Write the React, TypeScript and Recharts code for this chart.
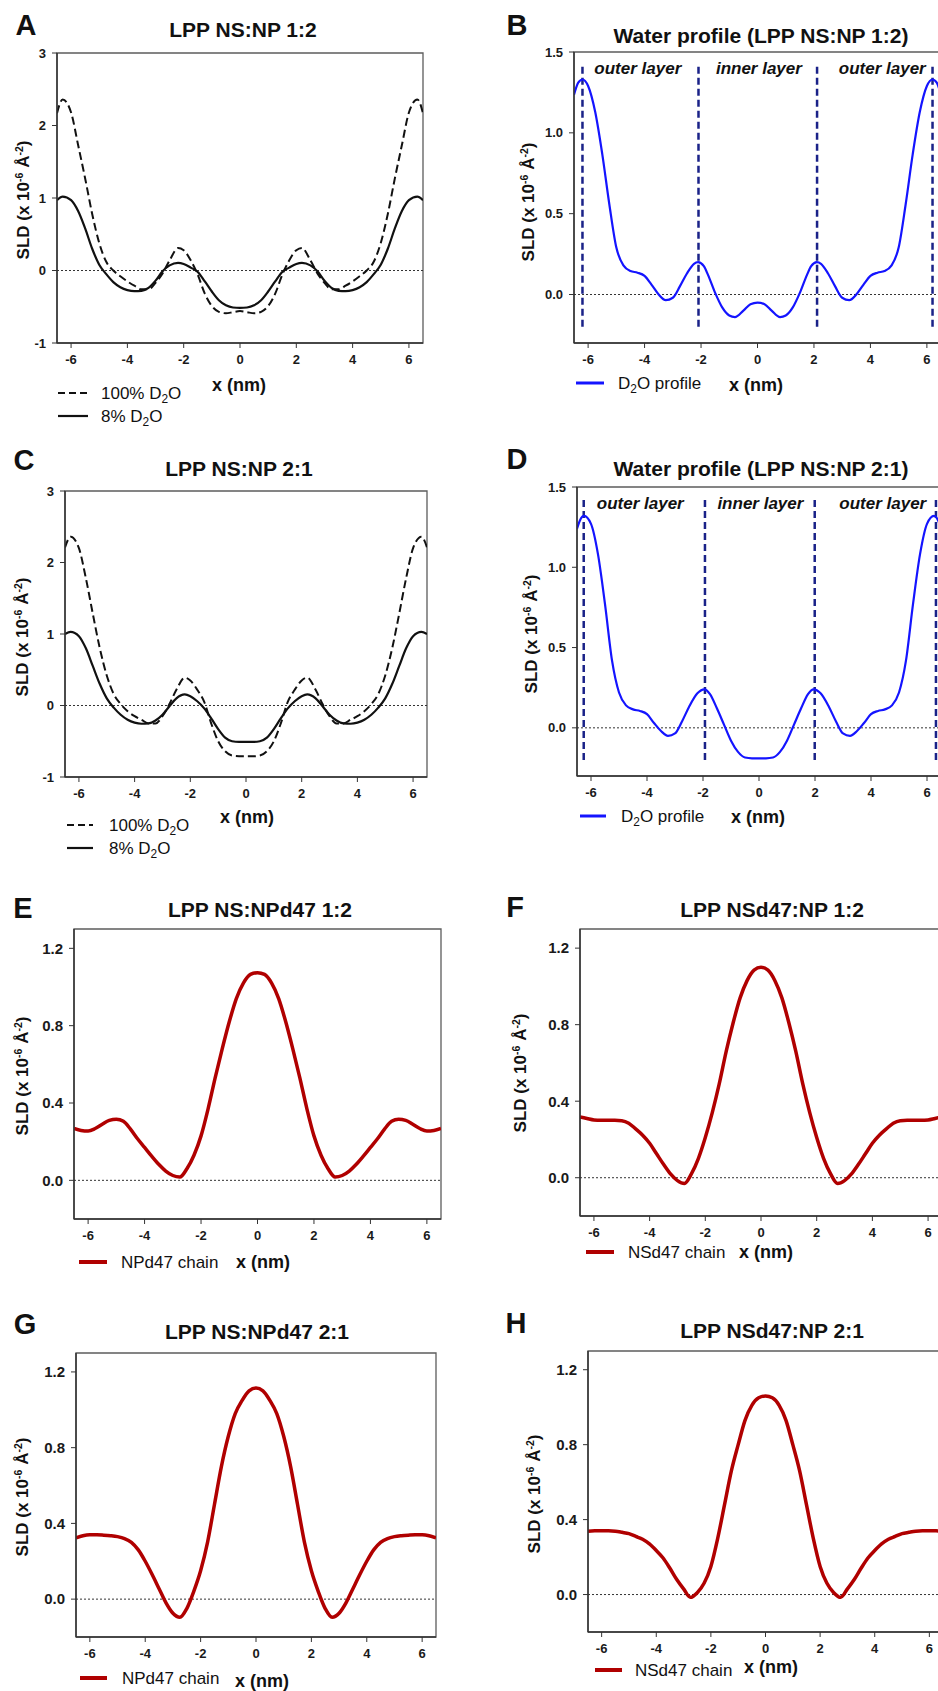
import React from "react";
import {
  LineChart, Line, XAxis, YAxis,
  ReferenceLine, ReferenceArea, ReferenceDot,
} from "recharts";

const FONT = '"Liberation Sans", Arial, Helvetica, sans-serif';

// shared x ticks, nm
const xTicks = [-6, -4, -2, 0, 2, 4, 6];

// ---- A / C : LPP NS:NP total SLD ----
const xAC = [
  -6.5, -6.3, -6, -5.75, -5.5, -5.25, -5, -4.75, -4.5, -4.25, -4, -3.75, -3.5, -3.25, -3, -2.75, -2.5, -2.2, -2, -1.75, -1.5, -1.25, -1, -0.75, -0.5, -0.25,
  0,
  0.25, 0.5, 0.75, 1, 1.25, 1.5, 1.75, 2, 2.2, 2.5, 2.75, 3, 3.25, 3.5, 3.75, 4, 4.25, 4.5, 4.75, 5, 5.25, 5.5, 5.75, 6, 6.3, 6.5,
];
const a100 = [
  2.17, 2.36, 2.18, 1.73, 1.27, 0.78, 0.38, 0.12, 0.0, -0.08, -0.15, -0.21, -0.26, -0.26, -0.17, -0.04, 0.14, 0.31, 0.28, 0.14, -0.06, -0.32, -0.49, -0.57, -0.59, -0.575,
  -0.56,
  -0.575, -0.59, -0.57, -0.49, -0.32, -0.06, 0.14, 0.28, 0.31, 0.14, -0.04, -0.17, -0.26, -0.26, -0.21, -0.15, -0.08, 0.0, 0.12, 0.38, 0.78, 1.27, 1.73, 2.18, 2.36, 2.17,
];
const a8 = [
  0.97, 1.02, 0.97, 0.82, 0.58, 0.3, 0.08, -0.05, -0.16, -0.23, -0.27, -0.285, -0.28, -0.24, -0.14, -0.01, 0.07, 0.105, 0.09, 0.04, -0.02, -0.15, -0.29, -0.41, -0.48, -0.51,
  -0.515,
  -0.51, -0.48, -0.41, -0.29, -0.15, -0.02, 0.04, 0.09, 0.105, 0.07, -0.01, -0.14, -0.24, -0.28, -0.285, -0.27, -0.23, -0.16, -0.05, 0.08, 0.3, 0.58, 0.82, 0.97, 1.02, 0.97,
];
const c100 = [
  2.21, 2.36, 2.2, 1.78, 1.28, 0.8, 0.42, 0.16, 0.02, -0.08, -0.15, -0.2, -0.25, -0.25, -0.15, 0.02, 0.22, 0.39, 0.35, 0.22, 0.05, -0.25, -0.5, -0.64, -0.7, -0.71,
  -0.71,
  -0.71, -0.7, -0.64, -0.5, -0.25, 0.05, 0.22, 0.35, 0.39, 0.22, 0.02, -0.15, -0.25, -0.25, -0.2, -0.15, -0.08, 0.02, 0.16, 0.42, 0.8, 1.28, 1.78, 2.2, 2.36, 2.21,
];
const c8 = [
  1.0, 1.03, 0.97, 0.8, 0.55, 0.3, 0.1, -0.03, -0.13, -0.2, -0.24, -0.255, -0.25, -0.21, -0.13, -0.01, 0.1, 0.155, 0.13, 0.06, -0.04, -0.18, -0.33, -0.45, -0.5, -0.51,
  -0.51,
  -0.51, -0.5, -0.45, -0.33, -0.18, -0.04, 0.06, 0.13, 0.155, 0.1, -0.01, -0.13, -0.21, -0.25, -0.255, -0.24, -0.2, -0.13, -0.03, 0.1, 0.3, 0.55, 0.8, 0.97, 1.03, 1.0,
];

// ---- B : water profile 1:2 ----
const xB = [
  -6.5, -6.35, -6.2, -6, -5.75, -5.5, -5.25, -5, -4.75, -4.5, -4.25, -4, -3.75, -3.5, -3.25, -3, -2.75, -2.5, -2.25, -2.1, -1.9, -1.75, -1.5, -1.25, -1, -0.8, -0.5, -0.25,
  0,
  0.25, 0.5, 0.8, 1, 1.25, 1.5, 1.75, 1.9, 2.1, 2.25, 2.5, 2.75, 3, 3.25, 3.5, 3.75, 4, 4.25, 4.5, 4.75, 5, 5.25, 5.5, 5.75, 6, 6.2, 6.35, 6.5,
];
const bWater = [
  1.235, 1.31, 1.33, 1.29, 1.13, 0.87, 0.56, 0.29, 0.18, 0.145, 0.135, 0.115, 0.06, 0.0, -0.035, -0.02, 0.05, 0.13, 0.19, 0.2, 0.175, 0.12, 0.01, -0.08, -0.13, -0.14, -0.1, -0.06,
  -0.05,
  -0.06, -0.1, -0.14, -0.13, -0.08, 0.01, 0.12, 0.175, 0.2, 0.19, 0.13, 0.05, -0.02, -0.035, 0.0, 0.06, 0.115, 0.135, 0.145, 0.18, 0.29, 0.56, 0.87, 1.13, 1.29, 1.33, 1.31, 1.235,
];
const bBounds = [-6.2, -2.09, 2.11, 6.2];

// ---- D : water profile 2:1 ----
const xD = [
  -6.5, -6.4, -6.25, -6, -5.75, -5.5, -5.25, -5, -4.75, -4.5, -4.25, -4, -3.75, -3.5, -3.25, -3, -2.75, -2.5, -2.2, -1.95, -1.75, -1.5, -1.25, -1, -0.75, -0.5, -0.25,
  0,
  0.25, 0.5, 0.75, 1, 1.25, 1.5, 1.75, 1.95, 2.2, 2.5, 2.75, 3, 3.25, 3.5, 3.75, 4, 4.25, 4.5, 4.75, 5, 5.25, 5.5, 5.75, 6, 6.25, 6.4, 6.5,
];
const dWater = [
  1.24, 1.29, 1.32, 1.27, 1.08, 0.77, 0.42, 0.22, 0.14, 0.115, 0.105, 0.085, 0.03, -0.02, -0.05, -0.035, 0.04, 0.13, 0.215, 0.24, 0.21, 0.12, 0.02, -0.08, -0.15, -0.185, -0.19,
  -0.19,
  -0.19, -0.185, -0.15, -0.08, 0.02, 0.12, 0.21, 0.24, 0.215, 0.13, 0.04, -0.035, -0.05, -0.02, 0.03, 0.085, 0.105, 0.115, 0.14, 0.22, 0.42, 0.77, 1.08, 1.27, 1.32, 1.29, 1.24,
];
const dBounds = [-6.26, -1.93, 1.99, 6.32];

const layerLabels = [
  { x: -4.24, text: "outer layer" },
  { x: 0.05, text: "inner layer" },
  { x: 4.42, text: "outer layer" },
];

// ---- E-H : deuterated chain profiles ----
const xChain = [
  -6.5, -6.25, -6, -5.75, -5.5, -5.25, -5, -4.75, -4.5, -4.25, -4, -3.75, -3.5, -3.25, -3, -2.75, -2.5, -2.25, -2, -1.75, -1.5, -1.25, -1, -0.75, -0.5, -0.25,
  0,
  0.25, 0.5, 0.75, 1, 1.25, 1.5, 1.75, 2, 2.25, 2.5, 2.75, 3, 3.25, 3.5, 3.75, 4, 4.25, 4.5, 4.75, 5, 5.25, 5.5, 5.75, 6, 6.25, 6.5,
];
const eChain = [
  0.268, 0.258, 0.255, 0.268, 0.29, 0.31, 0.316, 0.305, 0.265, 0.215, 0.17, 0.125, 0.083, 0.048, 0.025, 0.017, 0.06, 0.13, 0.23, 0.37, 0.53, 0.68, 0.82, 0.94, 1.02, 1.065,
  1.074,
  1.065, 1.02, 0.94, 0.82, 0.68, 0.53, 0.37, 0.23, 0.13, 0.06, 0.017, 0.025, 0.048, 0.083, 0.125, 0.17, 0.215, 0.265, 0.305, 0.316, 0.31, 0.29, 0.268, 0.255, 0.258, 0.268,
];
const fChain = [
  0.318, 0.31, 0.302, 0.3, 0.3, 0.3, 0.298, 0.285, 0.255, 0.222, 0.18, 0.125, 0.07, 0.02, -0.015, -0.03, 0.02, 0.1, 0.21, 0.34, 0.49, 0.66, 0.81, 0.94, 1.03, 1.085,
  1.1,
  1.085, 1.03, 0.94, 0.81, 0.66, 0.49, 0.34, 0.21, 0.1, 0.02, -0.03, -0.015, 0.02, 0.07, 0.125, 0.18, 0.222, 0.255, 0.285, 0.298, 0.3, 0.3, 0.3, 0.302, 0.31, 0.318,
];
const gChain = [
  0.323, 0.335, 0.34, 0.34, 0.338, 0.335, 0.33, 0.32, 0.3, 0.26, 0.2, 0.13, 0.055, -0.02, -0.075, -0.096, -0.05, 0.04, 0.15, 0.3, 0.5, 0.7, 0.86, 0.98, 1.05, 1.1,
  1.115,
  1.1, 1.05, 0.98, 0.86, 0.7, 0.5, 0.3, 0.15, 0.04, -0.05, -0.096, -0.075, -0.02, 0.055, 0.13, 0.2, 0.26, 0.3, 0.32, 0.33, 0.335, 0.338, 0.34, 0.34, 0.335, 0.323,
];
const hChain = [
  0.338, 0.34, 0.34, 0.34, 0.338, 0.332, 0.325, 0.31, 0.295, 0.27, 0.235, 0.195, 0.14, 0.08, 0.03, -0.015, 0.01, 0.06, 0.15, 0.3, 0.48, 0.66, 0.8, 0.93, 1.01, 1.05,
  1.06,
  1.05, 1.01, 0.93, 0.8, 0.66, 0.48, 0.3, 0.15, 0.06, 0.01, -0.015, 0.03, 0.08, 0.14, 0.195, 0.235, 0.27, 0.295, 0.31, 0.325, 0.332, 0.338, 0.34, 0.34, 0.34, 0.338,
];

const yTicksAC = [-1, 0, 1, 2, 3];
const yTicksBD = [0, 0.5, 1.0, 1.5];
const yTicksChain = [0, 0.4, 0.8, 1.2];

const zip = (xs: number[], cols: Record<string, number[]>) =>
  xs.map((x, i) => {
    const row: Record<string, number> = { x };
    for (const k of Object.keys(cols)) row[k] = cols[k][i];
    return row;
  });

const dataA = zip(xAC, { d100: a100, d8: a8 });
const dataC = zip(xAC, { d100: c100, d8: c8 });
const dataB = zip(xB, { w: bWater });
const dataD = zip(xD, { w: dWater });
const dataE = zip(xChain, { v: eChain });
const dataF = zip(xChain, { v: fChain });
const dataG = zip(xChain, { v: gChain });
const dataH = zip(xChain, { v: hChain });

const BLUE = "#1414ff";
const NAVY = "#1a2288";
const RED = "#b00000";

type Curve = { key: string; stroke: string; width: number; dash?: string };
type Box = { l: number; t: number; w: number; h: number };

function Panel(props: {
  box: Box;
  data: Record<string, number>[];
  yDomain: [number, number];
  yTicks: number[];
  yDigits: number;
  yFont: number;
  curves: Curve[];
  bounds?: number[];
  labelY?: number;
}) {
  const { box, data, yDomain, yTicks, yDigits, yFont, curves, bounds, labelY } = props;
  const ML = 46, MT = 12, MR = 12, XH = 34;
  return (
    <div style={{ position: "absolute", left: box.l - ML, top: box.t - MT }}>
      <LineChart
        width={ML + box.w + MR}
        height={MT + box.h + XH}
        data={data}
        margin={{ top: MT, right: MR, left: 0, bottom: 0 }}
      >
        <ReferenceArea
          x1={-6.5} x2={6.5} y1={yDomain[0]} y2={yDomain[1]}
          fill="none" stroke="#5c5c5c" strokeWidth={1.3} ifOverflow="visible"
        />
        <XAxis
          type="number" dataKey="x" domain={[-6.5, 6.5]} ticks={xTicks} allowDataOverflow
          height={XH} tickSize={5} tickMargin={7}
          tick={{ fontSize: 13, fontWeight: 700, fill: "#1a1a1a", fontFamily: FONT }}
          axisLine={{ stroke: "#333", strokeWidth: 1.5 }}
          tickLine={{ stroke: "#333" }}
        />
        <YAxis
          type="number" domain={yDomain} ticks={yTicks} allowDataOverflow
          width={ML} tickSize={5} tickMargin={6}
          tickFormatter={(v: number) => v.toFixed(yDigits)}
          tick={{ fontSize: yFont, fontWeight: 700, fill: "#1a1a1a", fontFamily: FONT }}
          axisLine={{ stroke: "#333", strokeWidth: 1.5 }}
          tickLine={{ stroke: "#333" }}
        />
        <ReferenceLine y={0} stroke="#333" strokeWidth={1} strokeDasharray="2 2" />
        {bounds?.map((bx, i) => (
          <ReferenceLine
            key={"b" + i}
            segment={[{ x: bx, y: -0.2 }, { x: bx, y: 1.42 }]}
            stroke={NAVY} strokeWidth={2.5} strokeDasharray="7 4"
          />
        ))}
        {labelY !== undefined && layerLabels.map((ll, i) => (
          <ReferenceDot
            key={"l" + i}
            x={ll.x} y={labelY} r={0}
            shape={(p: any) => (
              <text
                x={p.cx} y={p.cy} textAnchor="middle" dominantBaseline="central"
                style={{ font: `italic bold 17px ${FONT}`, fill: "#111" }}
              >
                {ll.text}
              </text>
            )}
          />
        ))}
        {curves.map((c) => (
          <Line
            key={c.key} dataKey={c.key} type="monotone"
            stroke={c.stroke} strokeWidth={c.width} strokeDasharray={c.dash}
            dot={false} activeDot={false} isAnimationActive={false}
          />
        ))}
      </LineChart>
    </div>
  );
}

const abs = (x: number, y: number, extra: React.CSSProperties = {}): React.CSSProperties => ({
  position: "absolute", left: x, top: y, whiteSpace: "nowrap", ...extra,
});

function Centered({ x, y, font, children }: { x: number; y: number; font: string; children: React.ReactNode }) {
  return (
    <div style={abs(x, y, { transform: "translate(-50%,-50%)", font, color: "#111", lineHeight: 1 })}>
      {children}
    </div>
  );
}

function YLabel({ x, y }: { x: number; y: number }) {
  const sup: React.CSSProperties = { fontSize: "0.62em", position: "relative", top: "-0.55em" };
  return (
    <div style={abs(x, y, { transform: "translate(-50%,-50%) rotate(-90deg)", font: `bold 17px ${FONT}`, color: "#111", lineHeight: 1 })}>
      SLD (x 10<span style={sup}>-6</span> Å<span style={sup}>-2</span>)
    </div>
  );
}

function D2O() {
  return <>D<span style={{ fontSize: "0.7em", position: "relative", top: "0.3em" }}>2</span>O</>;
}

function LegendRow(props: { x1: number; x2: number; y: number; tx: number; stroke: string; width: number; dash?: string; children: React.ReactNode }) {
  const { x1, x2, y, tx, stroke, width, dash, children } = props;
  return (
    <>
      <svg style={abs(x1, y - 4)} width={x2 - x1} height={8}>
        <line x1={0} y1={4} x2={x2 - x1} y2={4} stroke={stroke} strokeWidth={width} strokeDasharray={dash} />
      </svg>
      <div style={abs(tx, y, { transform: "translateY(-50%)", font: `17px ${FONT}`, color: "#111", lineHeight: 1 })}>
        {children}
      </div>
    </>
  );
}

const TITLE = `bold 21px ${FONT}`;
const LETTER = `bold 29px ${FONT}`;
const XLAB = `bold 18px ${FONT}`;

const sldCurves: Curve[] = [
  { key: "d100", stroke: "#111", width: 2, dash: "8 4" },
  { key: "d8", stroke: "#111", width: 2.2 },
];

export default function App() {
  return (
    <div style={{ position: "absolute", left: 0, top: 0, width: 938, height: 1691, overflow: "hidden", background: "#fff", fontFamily: FONT }}>
      {/* A */}
      <Centered x={26} y={25} font={LETTER}>A</Centered>
      <Centered x={243} y={29} font={TITLE}>LPP NS:NP 1:2</Centered>
      <Panel box={{ l: 57, t: 53, w: 366, h: 290 }} data={dataA} yDomain={[-1, 3]} yTicks={yTicksAC} yDigits={0} yFont={13} curves={sldCurves} />
      <YLabel x={23} y={200} />
      <Centered x={239} y={385} font={XLAB}>x (nm)</Centered>
      <LegendRow x1={58} x2={88} y={393} tx={101} stroke="#111" width={2} dash="7 4"><>100% <D2O /></></LegendRow>
      <LegendRow x1={58} x2={88} y={416} tx={101} stroke="#111" width={2.2}><>8% <D2O /></></LegendRow>

      {/* B */}
      <Centered x={517} y={25} font={LETTER}>B</Centered>
      <Centered x={761} y={35} font={TITLE}>Water profile (LPP NS:NP 1:2)</Centered>
      <Panel box={{ l: 574, t: 52, w: 367, h: 291 }} data={dataB} yDomain={[-0.3, 1.5]} yTicks={yTicksBD} yDigits={1} yFont={13}
        curves={[{ key: "w", stroke: BLUE, width: 2.2 }]} bounds={bBounds} labelY={1.4} />
      <YLabel x={528} y={202} />
      <Centered x={756} y={385} font={XLAB}>x (nm)</Centered>
      <LegendRow x1={576} x2={604} y={383} tx={618} stroke={BLUE} width={3}><><D2O /> profile</></LegendRow>

      {/* C */}
      <Centered x={24} y={460} font={LETTER}>C</Centered>
      <Centered x={239} y={468} font={TITLE}>LPP NS:NP 2:1</Centered>
      <Panel box={{ l: 65, t: 491, w: 362, h: 286 }} data={dataC} yDomain={[-1, 3]} yTicks={yTicksAC} yDigits={0} yFont={13} curves={sldCurves} />
      <YLabel x={22} y={637} />
      <Centered x={247} y={817} font={XLAB}>x (nm)</Centered>
      <LegendRow x1={67} x2={93} y={825} tx={109} stroke="#111" width={2} dash="7 4"><>100% <D2O /></></LegendRow>
      <LegendRow x1={67} x2={93} y={848} tx={109} stroke="#111" width={2.2}><>8% <D2O /></></LegendRow>

      {/* D */}
      <Centered x={517} y={459} font={LETTER}>D</Centered>
      <Centered x={761} y={468} font={TITLE}>Water profile (LPP NS:NP 2:1)</Centered>
      <Panel box={{ l: 577, t: 487, w: 364, h: 289 }} data={dataD} yDomain={[-0.3, 1.5]} yTicks={yTicksBD} yDigits={1} yFont={13}
        curves={[{ key: "w", stroke: BLUE, width: 2.2 }]} bounds={dBounds} labelY={1.4} />
      <YLabel x={531} y={634} />
      <Centered x={758} y={817} font={XLAB}>x (nm)</Centered>
      <LegendRow x1={580} x2={606} y={816} tx={621} stroke={BLUE} width={3}><><D2O /> profile</></LegendRow>

      {/* E */}
      <Centered x={23} y={908} font={LETTER}>E</Centered>
      <Centered x={260} y={909} font={TITLE}>LPP NS:NPd47 1:2</Centered>
      <Panel box={{ l: 74, t: 929, w: 367, h: 290 }} data={dataE} yDomain={[-0.2, 1.3]} yTicks={yTicksChain} yDigits={1} yFont={15}
        curves={[{ key: "v", stroke: RED, width: 3.5 }]} />
      <YLabel x={22} y={1076} />
      <Centered x={263} y={1262} font={XLAB}>x (nm)</Centered>
      <LegendRow x1={79} x2={107} y={1262} tx={121} stroke={RED} width={4}>NPd47 chain</LegendRow>

      {/* F */}
      <Centered x={515} y={907} font={LETTER}>F</Centered>
      <Centered x={772} y={909} font={TITLE}>LPP NSd47:NP 1:2</Centered>
      <Panel box={{ l: 580, t: 929, w: 362, h: 287 }} data={dataF} yDomain={[-0.2, 1.3]} yTicks={yTicksChain} yDigits={1} yFont={15}
        curves={[{ key: "v", stroke: RED, width: 3.5 }]} />
      <YLabel x={520} y={1073} />
      <Centered x={766} y={1252} font={XLAB}>x (nm)</Centered>
      <LegendRow x1={586} x2={614} y={1252} tx={628} stroke={RED} width={4}>NSd47 chain</LegendRow>

      {/* G */}
      <Centered x={25} y={1324} font={LETTER}>G</Centered>
      <Centered x={257} y={1331} font={TITLE}>LPP NS:NPd47 2:1</Centered>
      <Panel box={{ l: 76, t: 1353, w: 360, h: 284 }} data={dataG} yDomain={[-0.2, 1.3]} yTicks={yTicksChain} yDigits={1} yFont={15}
        curves={[{ key: "v", stroke: RED, width: 3.5 }]} />
      <YLabel x={22} y={1497} />
      <Centered x={262} y={1681} font={XLAB}>x (nm)</Centered>
      <LegendRow x1={80} x2={107} y={1678} tx={122} stroke={RED} width={4}>NPd47 chain</LegendRow>

      {/* H */}
      <Centered x={516} y={1323} font={LETTER}>H</Centered>
      <Centered x={772} y={1330} font={TITLE}>LPP NSd47:NP 2:1</Centered>
      <Panel box={{ l: 588, t: 1351, w: 355, h: 281 }} data={dataH} yDomain={[-0.2, 1.3]} yTicks={yTicksChain} yDigits={1} yFont={15}
        curves={[{ key: "v", stroke: RED, width: 3.5 }]} />
      <YLabel x={534} y={1494} />
      <Centered x={771} y={1667} font={XLAB}>x (nm)</Centered>
      <LegendRow x1={595} x2={622} y={1670} tx={635} stroke={RED} width={4}>NSd47 chain</LegendRow>
    </div>
  );
}
